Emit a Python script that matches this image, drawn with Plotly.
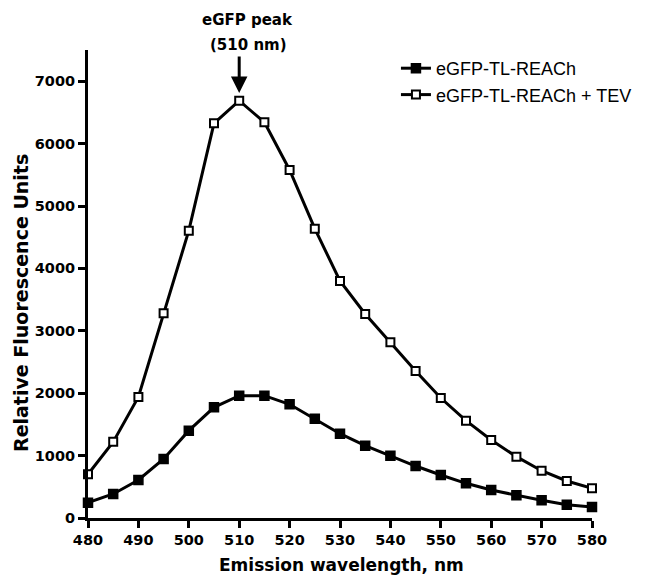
import plotly.graph_objects as go

wavelength = [480, 485, 490, 495, 500, 505, 510, 515, 520, 525, 530, 535, 540, 545, 550, 555, 560, 565, 570, 575, 580]
reach = [246, 385, 609, 946, 1400, 1774, 1960, 1960, 1822, 1592, 1351, 1159, 999, 833, 689, 556, 449, 363, 283, 213, 176]
reach_tev = [700, 1220, 1940, 3280, 4604, 6325, 6688, 6341, 5577, 4636, 3800, 3269, 2815, 2356, 1923, 1560, 1250, 983, 758, 593, 476]
x_ticks = [480, 490, 500, 510, 520, 530, 540, 550, 560, 570, 580]
y_ticks = [0, 1000, 2000, 3000, 4000, 5000, 6000, 7000]

fig = go.Figure()
fig.add_trace(go.Scatter(
    x=wavelength, y=reach, mode="lines+markers", name="eGFP-TL-REACh",
    line=dict(color="black", width=3),
    marker=dict(symbol="square", size=9, color="black", line=dict(color="black", width=1.5)),
    cliponaxis=False,
))
fig.add_trace(go.Scatter(
    x=wavelength, y=reach_tev, mode="lines+markers", name="eGFP-TL-REACh + TEV",
    line=dict(color="black", width=3),
    marker=dict(symbol="square", size=8, color="white", line=dict(color="black", width=2)),
    cliponaxis=False,
))

# arrow marking the peak
fig.add_annotation(
    x=510, y=6810, xref="x", yref="y", text="",
    showarrow=True, ax=0, ay=-38, arrowhead=2, arrowsize=1.1, arrowwidth=3,
    arrowcolor="black", standoff=0, startstandoff=0,
)
fig.add_annotation(
    x=0.317, y=1.064, xref="paper", yref="paper", text="<b>eGFP peak</b>",
    showarrow=False, xanchor="center", yanchor="middle",
    font=dict(family="DejaVu Sans", size=15, color="black"),
)
fig.add_annotation(
    x=0.319, y=1.0107, xref="paper", yref="paper", text="<b>(510 nm)</b>",
    showarrow=False, xanchor="center", yanchor="middle",
    font=dict(family="DejaVu Sans", size=15, color="black"),
)
# axis titles
fig.add_annotation(
    x=(21 - 88) / 504, y=(518 - 303) / 468, xref="paper", yref="paper",
    text="<b>Relative Fluorescence Units</b>", textangle=-90,
    showarrow=False, xanchor="center", yanchor="middle",
    font=dict(family="DejaVu Sans", size=19, color="black"),
)
fig.add_annotation(
    x=(341 - 88) / 504, y=(518 - 565) / 468, xref="paper", yref="paper",
    text="<b>Emission wavelength, nm</b>",
    showarrow=False, xanchor="center", yanchor="middle",
    font=dict(family="DejaVu Sans", size=17, color="black"),
)

tick_font = dict(family="DejaVu Sans", size=14.5, color="black", weight="bold")
# page has an 8px body margin, so the figure is 8px smaller and margins shifted
fig.update_layout(
    width=646, height=569,
    margin=dict(l=80, r=62, t=42, b=59),
    paper_bgcolor="white", plot_bgcolor="white",
    showlegend=True,
    legend=dict(x=0.611, y=1.0, xanchor="left", yanchor="top",
                font=dict(family="Liberation Sans", size=18, color="black"),
                bgcolor="rgba(0,0,0,0)", tracegroupgap=0),
    xaxis=dict(
        range=[480, 580], tickvals=x_ticks, ticktext=[str(v) for v in x_ticks],
        showline=True, linecolor="black", linewidth=3,
        ticks="outside", ticklen=7, tickwidth=3, tickcolor="black",
        showgrid=False, zeroline=False, automargin=False,
        tickfont=tick_font,
    ),
    yaxis=dict(
        range=[0, 7500], tickvals=y_ticks, ticktext=[str(v) for v in y_ticks],
        showline=True, linecolor="black", linewidth=3,
        ticks="outside", ticklen=7, tickwidth=3, tickcolor="black",
        showgrid=False, zeroline=False, automargin=False,
        tickfont=tick_font,
    ),
)

fig.write_html("out.html")
